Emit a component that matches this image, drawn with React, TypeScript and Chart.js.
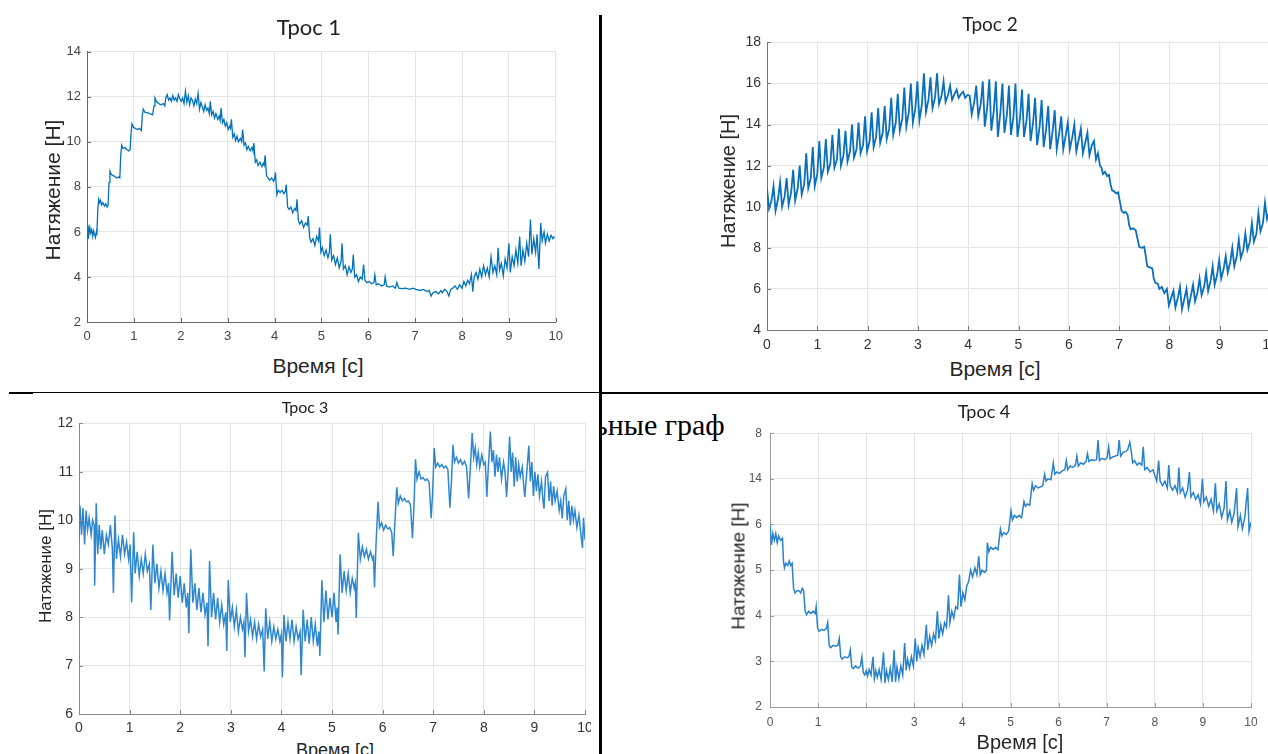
import React, { useEffect, useRef } from 'react';
import { Chart, registerables } from 'chart.js';
Chart.register(...registerables);

// ---------- Трос 1 ----------
const t1 = [0.00,0.02,0.04,0.06,0.08,0.10,0.12,0.14,0.16,0.18,0.20,0.21,0.23,0.25,0.27,0.29,0.31,0.34,0.37,0.40,0.43,0.45,0.47,0.49,0.52,0.56,0.60,0.64,0.68,0.70,0.72,0.74,0.77,0.81,0.85,0.89,0.92,0.94,0.96,0.99,1.03,1.08,1.12,1.16,1.18,1.20,1.24,1.29,1.34,1.40,1.43,1.45,1.48,1.53,1.58,1.63,1.66,1.68,1.71,1.74,1.77,1.80,1.83,1.86,1.89,1.92,1.95,1.98,2.01,2.04,2.07,2.10,2.13,2.16,2.19,2.22,2.25,2.28,2.31,2.34,2.37,2.40,2.43,2.46,2.49,2.52,2.55,2.58,2.61,2.63,2.66,2.69,2.72,2.75,2.79,2.82,2.84,2.86,2.89,2.92,2.95,2.98,3.01,3.04,3.06,3.08,3.11,3.14,3.17,3.20,3.23,3.27,3.30,3.32,3.35,3.38,3.41,3.44,3.48,3.52,3.54,3.56,3.59,3.62,3.65,3.69,3.73,3.76,3.78,3.80,3.83,3.86,3.90,3.94,3.98,4.00,4.02,4.05,4.08,4.12,4.16,4.20,4.23,4.25,4.28,4.31,4.35,4.39,4.43,4.46,4.48,4.51,4.54,4.58,4.62,4.66,4.70,4.72,4.75,4.78,4.82,4.86,4.90,4.94,4.96,4.99,5.02,5.06,5.10,5.14,5.17,5.19,5.22,5.26,5.30,5.34,5.38,5.42,5.44,5.47,5.51,5.55,5.59,5.63,5.66,5.68,5.71,5.75,5.79,5.83,5.87,5.90,5.93,5.97,6.02,6.07,6.12,6.14,6.17,6.22,6.28,6.34,6.36,6.39,6.45,6.52,6.58,6.61,6.65,6.72,6.80,6.88,6.95,7.02,7.10,7.18,7.25,7.30,7.34,7.38,7.44,7.50,7.55,7.58,7.63,7.68,7.72,7.76,7.80,7.85,7.90,7.95,8.00,8.04,8.08,8.12,8.16,8.20,8.23,8.26,8.30,8.34,8.38,8.42,8.46,8.50,8.54,8.58,8.62,8.66,8.70,8.74,8.77,8.80,8.84,8.88,8.92,8.96,9.00,9.03,9.07,9.11,9.15,9.19,9.23,9.26,9.30,9.34,9.38,9.42,9.46,9.49,9.53,9.57,9.60,9.64,9.68,9.71,9.75,9.78,9.82,9.86,9.90,9.94,9.97,10.00];
const v1 = [5.7,6.3,5.9,6.2,5.95,6.1,5.8,6.05,5.9,5.75,6.0,5.85,7.0,7.45,7.3,7.4,7.2,7.3,7.15,7.25,7.1,7.2,8.2,8.7,8.55,8.5,8.45,8.4,8.45,8.4,9.4,9.85,9.7,9.75,9.65,9.6,9.65,10.4,10.8,10.65,10.6,10.55,10.6,10.5,11.2,11.45,11.3,11.3,11.25,11.2,11.6,11.95,11.8,11.7,11.65,11.7,11.6,11.95,12.1,11.85,11.95,11.8,12.05,11.85,11.95,11.8,12.1,11.9,11.8,11.95,11.7,12.25,11.75,12.05,11.65,11.95,11.85,11.6,11.9,11.7,12.15,11.45,11.75,11.55,11.35,11.65,11.4,11.5,11.25,11.8,11.2,11.35,11.05,11.25,11.0,11.15,10.95,11.5,10.85,11.0,10.7,10.85,10.55,10.7,10.6,11.0,10.2,10.35,10.05,10.25,10.0,10.15,10.0,10.55,9.85,9.95,9.65,9.8,9.6,9.75,9.6,9.95,9.1,9.2,8.95,9.1,8.9,9.05,8.95,9.4,8.5,8.4,8.3,8.4,8.25,8.35,8.65,7.65,7.85,7.75,7.85,7.7,7.8,8.1,7.1,7.0,7.1,6.85,7.05,6.95,7.45,6.5,6.35,6.5,6.2,6.4,6.3,6.7,5.75,5.55,5.7,5.4,5.8,5.6,6.2,5.1,5.3,4.95,5.2,4.85,5.1,5.9,4.75,4.95,4.55,4.85,4.4,4.7,5.5,4.35,4.5,4.1,4.45,4.2,4.35,5.0,4.0,4.1,3.8,4.0,3.9,4.55,3.85,3.75,3.8,3.7,3.75,4.1,3.65,3.7,3.6,3.65,4.0,3.6,3.55,3.6,3.5,3.75,3.5,3.48,3.5,3.45,3.5,3.45,3.4,3.45,3.35,3.4,3.15,3.3,3.35,3.25,3.4,3.3,3.45,3.35,3.15,3.45,3.5,3.6,3.45,3.65,3.5,3.8,3.6,3.85,3.7,4.1,3.35,4.0,4.2,3.9,4.35,4.0,4.5,4.1,4.4,4.0,4.9,4.2,4.5,4.1,5.3,4.3,4.6,4.05,4.8,4.4,5.5,4.2,4.9,4.5,5.2,4.6,5.8,4.5,5.2,4.7,5.5,4.9,6.55,5.0,5.7,5.1,5.9,4.35,6.4,5.6,6.0,5.5,5.9,5.6,5.85,5.7,5.8];

// ---------- Трос 2 ----------
const t2 = [0.00,0.04,0.09,0.13,0.17,0.22,0.26,0.30,0.35,0.39,0.43,0.48,0.52,0.56,0.61,0.65,0.69,0.74,0.78,0.82,0.87,0.91,0.95,1.00,1.04,1.08,1.13,1.17,1.21,1.26,1.30,1.34,1.39,1.43,1.47,1.52,1.56,1.60,1.65,1.69,1.73,1.78,1.82,1.86,1.91,1.95,1.99,2.04,2.08,2.12,2.17,2.21,2.25,2.30,2.34,2.38,2.43,2.47,2.51,2.56,2.60,2.64,2.69,2.73,2.77,2.82,2.86,2.90,2.95,2.99,3.03,3.08,3.12,3.16,3.21,3.25,3.29,3.34,3.38,3.42,3.47,3.51,3.55,3.60,3.64,3.68,3.73,3.77,3.81,3.86,3.90,3.94,3.99,4.03,4.07,4.12,4.16,4.20,4.25,4.29,4.33,4.38,4.42,4.46,4.51,4.55,4.59,4.64,4.68,4.72,4.77,4.81,4.85,4.90,4.94,4.98,5.03,5.07,5.11,5.16,5.20,5.24,5.29,5.33,5.37,5.42,5.46,5.50,5.55,5.59,5.63,5.68,5.72,5.76,5.81,5.85,5.89,5.94,5.98,6.02,6.07,6.11,6.15,6.20,6.24,6.28,6.33,6.37,6.41,6.46,6.50,6.54,6.58,6.62,6.65,6.68,6.72,6.76,6.80,6.83,6.86,6.90,6.94,6.98,7.02,7.05,7.09,7.13,7.17,7.20,7.23,7.28,7.33,7.37,7.40,7.45,7.50,7.53,7.56,7.61,7.66,7.69,7.72,7.77,7.80,7.85,7.90,7.95,7.99,8.04,8.08,8.12,8.17,8.21,8.25,8.30,8.34,8.38,8.43,8.47,8.51,8.56,8.60,8.64,8.69,8.73,8.77,8.82,8.86,8.90,8.95,8.99,9.03,9.08,9.12,9.16,9.21,9.25,9.29,9.34,9.38,9.42,9.47,9.51,9.55,9.60,9.64,9.68,9.73,9.77,9.81,9.86,9.90,9.94,9.99];
const v2 = [10.9,9.9,10.3,11.0,9.8,10.4,11.2,10.0,10.5,11.4,10.1,10.7,11.8,10.3,10.9,12.0,10.6,11.1,12.6,10.9,11.4,12.9,11.0,11.6,13.2,11.4,11.9,13.3,11.7,12.1,13.5,11.9,12.3,13.8,12.0,12.5,13.7,12.2,12.7,14.0,12.4,12.8,14.1,12.6,13.0,14.4,12.7,13.2,14.6,12.9,13.4,14.8,13.1,13.6,14.9,13.3,13.8,15.3,13.5,14.1,15.5,13.7,14.3,15.8,13.9,14.6,16.0,14.1,14.8,16.1,14.2,15.0,16.5,14.6,15.2,16.3,14.8,15.3,16.5,15.0,15.4,16.1,15.1,15.45,15.9,15.2,15.5,15.7,15.3,15.5,15.6,15.3,15.45,15.4,14.5,15.1,15.9,14.4,15.0,16.1,13.9,14.9,16.2,13.7,14.7,16.1,13.4,14.6,16.0,13.6,14.5,15.9,13.5,14.4,16.0,13.4,14.3,15.7,13.4,14.2,15.5,13.2,14.1,15.3,13.0,13.9,15.2,12.9,13.8,14.9,12.8,13.7,14.7,12.8,13.6,14.4,12.8,13.5,14.1,12.8,13.4,14.0,12.7,13.3,13.8,12.6,13.15,13.6,12.5,13.0,13.2,12.3,12.6,12.0,11.9,11.6,11.7,11.5,11.55,11.1,10.8,10.75,10.65,10.7,10.2,9.8,9.7,9.75,9.6,9.1,8.9,8.95,8.85,8.4,8.05,8.0,8.05,7.6,7.1,7.05,7.0,6.5,6.3,6.25,6.0,6.1,5.8,6.0,5.2,5.6,5.9,5.1,5.6,6.1,5.0,5.55,6.0,5.1,5.7,6.2,5.4,5.85,6.5,5.7,6.1,6.8,5.9,6.4,7.1,6.2,6.7,7.4,6.5,7.0,7.6,6.8,7.3,8.0,7.1,7.6,8.4,7.5,7.9,8.7,7.9,8.3,9.2,8.3,8.7,9.7,8.8,9.2,10.2,9.4,9.8];

// ---------- Трос 3 ----------
const t3 = [0.00,0.02,0.05,0.08,0.11,0.14,0.17,0.20,0.24,0.27,0.30,0.31,0.34,0.37,0.40,0.43,0.46,0.50,0.54,0.58,0.62,0.66,0.68,0.71,0.74,0.78,0.82,0.86,0.90,0.94,0.98,1.01,1.04,1.08,1.11,1.15,1.19,1.23,1.27,1.31,1.35,1.39,1.42,1.46,1.50,1.54,1.58,1.62,1.66,1.70,1.74,1.77,1.79,1.84,1.88,1.92,1.96,2.00,2.04,2.08,2.12,2.15,2.17,2.21,2.25,2.29,2.33,2.37,2.41,2.45,2.49,2.53,2.55,2.58,2.62,2.66,2.70,2.74,2.78,2.82,2.86,2.90,2.92,2.95,2.99,3.03,3.07,3.11,3.15,3.19,3.23,3.26,3.28,3.31,3.35,3.39,3.43,3.47,3.51,3.55,3.59,3.63,3.66,3.69,3.73,3.77,3.81,3.85,3.89,3.93,3.97,4.00,4.02,4.05,4.09,4.13,4.17,4.21,4.25,4.29,4.33,4.37,4.39,4.43,4.47,4.51,4.55,4.59,4.63,4.67,4.71,4.74,4.76,4.80,4.84,4.88,4.92,4.96,5.00,5.04,5.08,5.10,5.12,5.16,5.20,5.24,5.28,5.32,5.36,5.40,5.44,5.46,5.48,5.52,5.56,5.60,5.64,5.68,5.72,5.76,5.80,5.82,5.84,5.87,5.91,5.94,5.98,6.02,6.06,6.10,6.14,6.18,6.21,6.24,6.28,6.31,6.35,6.39,6.43,6.47,6.51,6.55,6.59,6.62,6.65,6.68,6.72,6.76,6.80,6.84,6.88,6.92,6.96,6.99,7.02,7.05,7.09,7.13,7.17,7.21,7.25,7.29,7.33,7.36,7.39,7.42,7.46,7.50,7.54,7.58,7.62,7.66,7.70,7.73,7.77,7.80,7.83,7.86,7.89,7.92,7.96,8.00,8.03,8.06,8.09,8.13,8.16,8.19,8.22,8.25,8.28,8.31,8.35,8.39,8.42,8.45,8.48,8.51,8.54,8.57,8.60,8.63,8.66,8.69,8.72,8.76,8.79,8.81,8.85,8.89,8.92,8.95,8.98,9.01,9.04,9.07,9.10,9.14,9.17,9.19,9.22,9.26,9.29,9.32,9.35,9.38,9.41,9.45,9.49,9.52,9.55,9.58,9.62,9.65,9.68,9.71,9.74,9.77,9.80,9.84,9.88,9.92,9.95,9.97,10.00];
const v3 = [9.6,10.3,9.7,10.25,9.5,10.2,9.8,10.05,9.7,10.0,9.9,8.65,10.35,9.3,9.9,9.4,9.8,9.3,9.7,9.5,9.9,9.4,8.5,10.1,9.2,9.6,9.25,9.7,9.3,9.55,9.2,9.5,8.3,9.75,8.9,9.35,8.85,9.2,8.9,9.3,8.95,9.1,8.15,9.5,8.7,9.1,8.6,8.95,8.55,8.9,8.5,8.7,7.93,9.35,8.45,8.9,8.4,8.85,8.3,8.7,8.2,8.5,7.67,9.4,8.3,8.7,8.15,8.6,8.1,8.5,8.05,8.3,7.4,9.16,8.0,8.5,7.95,8.4,7.9,8.25,7.85,8.1,7.3,8.77,7.9,8.2,7.8,8.15,7.7,8.0,7.75,7.9,7.17,8.5,7.7,7.95,7.6,7.9,7.55,7.85,7.6,7.75,6.88,8.18,7.55,7.9,7.5,7.8,7.55,7.75,7.5,7.65,6.76,8.05,7.5,7.9,7.55,7.95,7.5,7.8,7.55,7.7,6.8,8.15,7.5,7.95,7.45,8.0,7.5,7.85,7.4,7.7,7.2,8.76,7.9,8.55,7.95,8.4,8.0,8.5,7.9,8.2,7.64,9.3,8.5,8.95,8.55,8.9,8.5,8.8,8.6,8.7,7.98,9.74,9.2,9.45,9.25,9.4,9.2,9.35,9.2,9.25,8.62,9.5,10.38,9.85,9.95,9.8,9.9,9.82,9.85,9.75,9.26,9.9,10.68,10.35,10.5,10.4,10.45,10.38,10.4,10.32,9.63,10.3,11.26,10.85,11.0,10.85,10.88,10.82,10.85,10.78,10.04,10.6,11.49,11.1,11.18,11.1,11.15,11.08,11.12,11.05,10.26,10.8,11.56,11.2,11.3,11.18,11.25,11.15,11.22,11.1,10.45,11.0,11.8,11.3,11.5,11.15,11.4,11.1,11.35,11.15,11.2,10.48,11.1,11.83,11.2,11.45,10.9,11.35,11.0,11.3,10.85,11.2,11.0,10.48,11.0,11.73,11.0,11.4,10.7,11.3,10.8,11.15,10.9,11.1,10.7,10.48,11.0,11.54,10.8,11.2,10.5,11.0,10.6,10.95,10.5,10.8,10.4,10.24,10.9,10.99,10.4,10.8,10.3,10.7,10.4,10.6,10.2,10.4,10.04,10.5,10.65,10.0,10.4,9.9,10.3,10.0,10.2,9.85,10.1,9.7,9.43,10.05,9.6];

// ---------- Трос 4 ----------
const t4 = [0.00,0.03,0.06,0.09,0.12,0.15,0.18,0.22,0.26,0.28,0.30,0.33,0.37,0.40,0.43,0.46,0.49,0.52,0.56,0.60,0.64,0.67,0.70,0.73,0.76,0.80,0.85,0.90,0.94,0.96,0.99,1.02,1.07,1.12,1.17,1.20,1.23,1.26,1.31,1.36,1.41,1.44,1.47,1.50,1.55,1.60,1.64,1.67,1.70,1.73,1.78,1.83,1.88,1.91,1.94,1.97,2.00,2.03,2.06,2.10,2.14,2.17,2.20,2.23,2.27,2.31,2.36,2.39,2.42,2.46,2.50,2.54,2.58,2.61,2.64,2.68,2.72,2.76,2.80,2.83,2.86,2.90,2.94,2.98,3.02,3.05,3.08,3.12,3.16,3.20,3.25,3.28,3.32,3.36,3.40,3.44,3.48,3.51,3.55,3.59,3.63,3.67,3.71,3.74,3.78,3.82,3.86,3.90,3.94,3.97,4.01,4.05,4.09,4.13,4.17,4.21,4.26,4.30,4.34,4.37,4.41,4.46,4.50,4.52,4.55,4.59,4.64,4.69,4.74,4.79,4.82,4.86,4.91,4.96,5.01,5.04,5.08,5.13,5.18,5.23,5.28,5.31,5.35,5.40,5.45,5.48,5.52,5.57,5.62,5.67,5.71,5.74,5.78,5.84,5.89,5.92,5.96,6.02,6.08,6.13,6.16,6.19,6.24,6.30,6.35,6.38,6.41,6.46,6.52,6.57,6.60,6.63,6.68,6.74,6.79,6.82,6.85,6.90,6.96,7.01,7.04,7.07,7.12,7.18,7.23,7.26,7.29,7.34,7.40,7.44,7.48,7.51,7.54,7.58,7.63,7.68,7.73,7.76,7.79,7.84,7.90,7.96,8.01,8.04,8.08,8.11,8.16,8.21,8.26,8.29,8.32,8.37,8.42,8.47,8.50,8.53,8.58,8.63,8.68,8.72,8.75,8.80,8.85,8.90,8.95,8.99,9.02,9.07,9.12,9.17,9.22,9.26,9.29,9.34,9.39,9.44,9.48,9.51,9.56,9.60,9.65,9.70,9.73,9.78,9.82,9.87,9.93,9.96,10.00];
const v4 = [6.0,5.55,5.8,5.65,5.8,5.6,5.75,5.65,5.7,5.2,5.05,5.15,5.1,5.2,5.1,5.15,4.6,4.5,4.55,4.55,4.5,4.6,4.55,4.1,4.02,4.1,4.05,4.1,4.05,4.2,3.72,3.66,3.7,3.68,3.72,3.85,3.35,3.3,3.35,3.33,3.35,3.5,3.1,3.05,3.1,3.08,3.1,3.25,2.88,2.84,2.9,2.85,2.9,3.1,2.75,2.7,2.8,2.68,2.82,2.7,3.1,2.62,2.8,2.65,2.82,2.6,3.2,2.52,2.8,2.6,2.85,2.55,3.25,2.55,2.88,2.62,2.9,2.7,3.4,2.8,3.05,2.85,3.1,2.9,3.5,3.0,3.3,3.1,3.35,3.15,3.8,3.25,3.55,3.35,3.6,3.45,4.1,3.5,3.8,3.6,3.85,3.75,4.45,3.85,4.1,3.95,4.2,4.15,4.9,4.2,4.5,4.35,4.65,4.75,5.0,4.85,5.05,4.9,5.3,4.9,5.0,4.95,5.0,5.6,5.4,5.5,5.45,5.5,5.45,5.9,5.75,5.82,5.78,5.85,6.3,6.1,6.2,6.15,6.2,6.15,6.5,6.4,6.45,6.42,6.9,6.75,6.85,6.8,6.82,6.85,7.1,6.95,7.0,6.98,7.35,7.1,7.15,7.12,7.18,7.2,7.4,7.2,7.28,7.25,7.3,7.5,7.28,7.35,7.32,7.38,7.55,7.38,7.42,7.4,7.42,7.85,7.4,7.45,7.42,7.47,7.7,7.44,7.48,7.5,7.52,7.85,7.5,7.58,7.6,7.65,7.8,7.6,7.35,7.4,7.3,7.35,7.3,7.7,7.2,7.25,7.15,7.2,7.05,6.95,7.4,6.95,6.85,6.95,6.8,7.3,6.85,6.75,6.85,6.7,7.25,6.7,6.8,6.6,6.75,7.15,6.6,6.7,6.55,6.65,6.45,7.0,6.5,6.6,6.4,6.55,6.3,6.9,6.3,6.45,6.15,6.35,6.95,6.1,6.3,6.05,6.25,6.8,5.95,6.2,5.9,6.15,6.8,5.85,6.05];

const xLabels = ['0','1','2','3','4','5','6','7','8','9','10'];
const xLabels4 = ['0','1','','3','4','5','6','7','8','9','10'];
const yLabels4 = ['2','3','4','5','6','14','8'];

const TICK_FONT = "'Liberation Sans', Arial, sans-serif";

type Cfg = {
  t: number[]; v: number[];
  box: [number, number, number, number];
  clipW: number;
  plot: [number, number, number, number];
  yMin: number; yMax: number; yStep: number;
  xLab: string[]; yLab?: string[];
  tickSize: number; tickColor: string; tickPad: number; xTickPad: number;
  lineColor: string; lineWidth: number; axisColor: string;
};

const innerTicks = {
  id: 'innerTicks',
  afterDatasetsDraw(chart: any) {
    const { ctx, chartArea: a, scales } = chart;
    const x = scales.x, y = scales.y;
    ctx.save();
    ctx.strokeStyle = chart.options.scales.x.border.color;
    ctx.lineWidth = 1;
    x.ticks.forEach((tk: any) => {
      const px = Math.round(x.getPixelForValue(tk.value)) + 0.5;
      ctx.beginPath(); ctx.moveTo(px, a.bottom); ctx.lineTo(px, a.bottom - 4); ctx.stroke();
    });
    y.ticks.forEach((tk: any) => {
      const py = Math.round(y.getPixelForValue(tk.value)) + 0.5;
      ctx.beginPath(); ctx.moveTo(a.left, py); ctx.lineTo(a.left + 4, py); ctx.stroke();
    });
    ctx.restore();
  },
};

function TraceChart({ cfg }: { cfg: Cfg }) {
  const ref = useRef<HTMLCanvasElement>(null);
  const [L, T, W, H] = cfg.box;
  useEffect(() => {
    const [pl, pt, pr, pb] = cfg.plot;
    const yW = pl - L, xH = T + H - pb, padTop = pt - T, padRight = L + W - pr;
    const chart = new Chart(ref.current as HTMLCanvasElement, {
      type: 'line',
      data: {
        datasets: [{
          data: cfg.t.map((x, i) => ({ x, y: cfg.v[i] })),
          borderColor: cfg.lineColor, borderWidth: cfg.lineWidth,
          pointRadius: 0, tension: 0, fill: false,
        }],
      },
      options: {
        animation: false, responsive: false, maintainAspectRatio: false, devicePixelRatio: 1,
        layout: { padding: { top: padTop, right: padRight, left: 0, bottom: 0 } },
        plugins: { legend: { display: false }, tooltip: { enabled: false } },
        scales: {
          x: {
            type: 'linear', min: 0, max: 10,
            ticks: {
              stepSize: 1, autoSkip: false, maxRotation: 0, padding: cfg.xTickPad,
              color: cfg.tickColor, font: { family: TICK_FONT, size: cfg.tickSize },
              callback: (val: any) => cfg.xLab[Math.round(Number(val))] ?? '',
            },
            grid: { color: '#e4e4e4', drawTicks: false, lineWidth: 1 },
            border: { color: cfg.axisColor, width: 1 },
            afterFit: (s: any) => { s.height = xH; },
          },
          y: {
            type: 'linear', min: cfg.yMin, max: cfg.yMax,
            ticks: {
              stepSize: cfg.yStep, autoSkip: false, padding: cfg.tickPad,
              color: cfg.tickColor, font: { family: TICK_FONT, size: cfg.tickSize },
              callback: (val: any, idx: number) => (cfg.yLab ? cfg.yLab[idx] : String(val)),
            },
            grid: { color: '#e4e4e4', drawTicks: false, lineWidth: 1 },
            border: { color: cfg.axisColor, width: 1 },
            afterFit: (s: any) => { s.width = yW; },
          },
        },
      } as any,
      plugins: [innerTicks],
    });
    return () => chart.destroy();
  }, [cfg]);
  return (
    <div style={{ position: 'absolute', left: L, top: T, width: cfg.clipW, height: H, overflow: 'hidden' }}>
      <canvas ref={ref} width={W} height={H} style={{ width: W, height: H, display: 'block' }} />
    </div>
  );
}

const cfg1: Cfg = {
  t: t1, v: v1, box: [30, 38, 540, 310], clipW: 540, plot: [87, 48, 556, 322],
  yMin: 2, yMax: 14, yStep: 2, xLab: xLabels, tickSize: 13, tickColor: '#444', tickPad: 6, xTickPad: 7,
  lineColor: '#0072BD', lineWidth: 1.3, axisColor: '#666',
};
const cfg2: Cfg = {
  t: t2, v: v2, box: [720, 28, 570, 324], clipW: 548, plot: [767, 38, 1270, 330],
  yMin: 4, yMax: 18, yStep: 2, xLab: xLabels, tickSize: 14, tickColor: '#333', tickPad: 6, xTickPad: 7,
  lineColor: '#0a6fbd', lineWidth: 1.8, axisColor: '#777',
};
const cfg3: Cfg = {
  t: t3, v: v3, box: [30, 409, 570, 331], clipW: 561, plot: [79, 419, 585, 714],
  yMin: 6, yMax: 12, yStep: 1, xLab: xLabels, tickSize: 14, tickColor: '#333', tickPad: 6, xTickPad: 6,
  lineColor: '#2f88cf', lineWidth: 1.5, axisColor: '#888',
};
const cfg4: Cfg = {
  t: t4, v: v4, box: [728, 418, 540, 317], clipW: 529, plot: [770, 428, 1251, 707],
  yMin: 2, yMax: 8, yStep: 1, xLab: xLabels4, yLab: yLabels4, tickSize: 12, tickColor: '#555', tickPad: 8, xTickPad: 8,
  lineColor: '#2a82cc', lineWidth: 1.5, axisColor: '#999',
};

const titleFont = "Lato, 'Open Sans', sans-serif";
const axisFont = "'Liberation Sans', Arial, sans-serif";

function Txt({ x, y, size, text, rotate, font, color }: { x: number; y: number; size: number; text: string; rotate?: boolean; font?: string; color?: string }) {
  return (
    <div style={{
      position: 'absolute', left: x, top: y, whiteSpace: 'nowrap',
      fontFamily: font || axisFont, fontSize: size, lineHeight: 1, color: color || '#262626',
      transform: `translate(-50%, -50%)${rotate ? ' rotate(-90deg)' : ''}`,
    }}>{text}</div>
  );
}

export default function App() {
  return (
    <div style={{ position: 'absolute', left: 0, top: 0, width: 1268, height: 754, overflow: 'hidden', background: '#fff' }}>
      <div style={{ position: 'absolute', left: 601, top: 410, width: 126, height: 36, overflow: 'hidden', fontFamily: "'Liberation Serif', 'Times New Roman', serif", fontSize: 30, lineHeight: '30px', color: '#000', whiteSpace: 'nowrap' }}>
        <span style={{ marginLeft: -7 }}>ьные граф</span>
      </div>
      <TraceChart cfg={cfg1} />
      <TraceChart cfg={cfg2} />
      <TraceChart cfg={cfg3} />
      <TraceChart cfg={cfg4} />

      <Txt x={309} y={27} size={22} text="Трос 1" font={titleFont} color="#222" />
      <Txt x={52} y={190} size={21} text="Натяжение [Н]" rotate />
      <Txt x={318} y={365} size={21} text="Время [с]" />

      <Txt x={990} y={23} size={19} text="Трос 2" font={titleFont} color="#222" />
      <Txt x={728} y={181} size={20} text="Натяжение [Н]" rotate />
      <Txt x={995} y={368} size={21} text="Время [с]" />

      <Txt x={305} y={407} size={16} text="Трос 3" font={titleFont} color="#222" />
      <Txt x={45} y={566} size={17} text="Натяжение [Н]" rotate />
      <Txt x={335} y={750} size={18} text="Время [с]" />

      <Txt x={984} y={411} size={18} text="Трос 4" font={titleFont} color="#222" />
      <Txt x={738} y={566} size={19} text="Натяжение [Н]" rotate />
      <Txt x={1020} y={742} size={20} text="Время [с]" />

      <div style={{ position: 'absolute', left: 599, top: 15, width: 3, height: 739, background: '#000' }} />
      <div style={{ position: 'absolute', left: 9, top: 392, width: 24, height: 2, background: '#000' }} />
      <div style={{ position: 'absolute', left: 33, top: 392, width: 567, height: 1, background: '#000' }} />
      <div style={{ position: 'absolute', left: 600, top: 392, width: 668, height: 2, background: '#000' }} />
    </div>
  );
}
